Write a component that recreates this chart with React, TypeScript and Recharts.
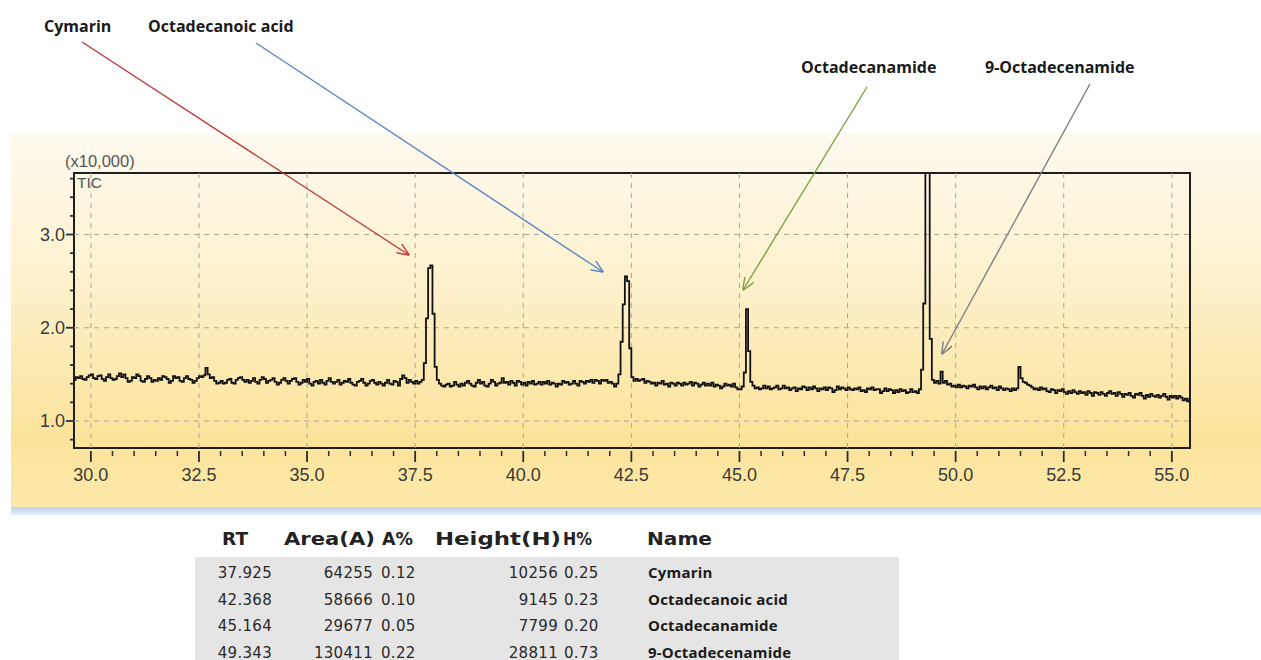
import { LineChart, Line, XAxis, YAxis, ReferenceLine, ReferenceArea } from "recharts";

// TIC trace, one row per minute, sampled every 0.05 min from 29.60
const rtStart = 29.6;
const rtStep = 0.05;
const ticRows = [
  [1.44, 1.47, 1.46, 1.48, 1.45, 1.44, 1.47, 1.49, 1.5, 1.46, 1.45, 1.48, 1.49, 1.45, 1.43, 1.47, 1.5, 1.46, 1.44, 1.45],
  [1.48, 1.51, 1.47, 1.5, 1.46, 1.42, 1.43, 1.47, 1.46, 1.5, 1.48, 1.43, 1.42, 1.45, 1.48, 1.46, 1.42, 1.44, 1.43, 1.46],
  [1.44, 1.48, 1.47, 1.45, 1.41, 1.43, 1.48, 1.46, 1.47, 1.43, 1.42, 1.46, 1.48, 1.45, 1.44, 1.41, 1.43, 1.46, 1.48, 1.47],
  [1.49, 1.57, 1.5, 1.46, 1.47, 1.43, 1.4, 1.41, 1.43, 1.4, 1.41, 1.44, 1.45, 1.41, 1.4, 1.44, 1.46, 1.47, 1.44, 1.42],
  [1.44, 1.41, 1.43, 1.46, 1.42, 1.4, 1.44, 1.47, 1.45, 1.41, 1.43, 1.44, 1.46, 1.42, 1.39, 1.41, 1.44, 1.46, 1.43, 1.4],
  [1.43, 1.45, 1.46, 1.42, 1.39, 1.41, 1.44, 1.42, 1.45, 1.4, 1.38, 1.42, 1.43, 1.4, 1.44, 1.41, 1.39, 1.43, 1.46, 1.42],
  [1.4, 1.42, 1.44, 1.39, 1.41, 1.43, 1.42, 1.45, 1.41, 1.39, 1.38, 1.42, 1.43, 1.45, 1.41, 1.38, 1.4, 1.43, 1.44, 1.41],
  [1.39, 1.42, 1.4, 1.38, 1.41, 1.44, 1.4, 1.39, 1.43, 1.42, 1.38, 1.45, 1.49, 1.46, 1.41, 1.44, 1.42, 1.4, 1.43, 1.4],
  [1.42, 1.44, 1.62, 2.1, 2.64, 2.67, 2.15, 1.58, 1.44, 1.4, 1.38, 1.37, 1.39, 1.4, 1.37, 1.38, 1.42, 1.39, 1.37, 1.4],
  [1.38, 1.41, 1.43, 1.4, 1.38, 1.37, 1.41, 1.44, 1.4, 1.42, 1.38, 1.37, 1.4, 1.44, 1.42, 1.38, 1.4, 1.41, 1.46, 1.41],
  [1.42, 1.39, 1.43, 1.41, 1.38, 1.43, 1.42, 1.39, 1.41, 1.38, 1.42, 1.4, 1.43, 1.39, 1.4, 1.42, 1.39, 1.42, 1.4, 1.43],
  [1.39, 1.41, 1.4, 1.37, 1.4, 1.39, 1.43, 1.41, 1.42, 1.39, 1.4, 1.43, 1.4, 1.38, 1.43, 1.42, 1.4, 1.43, 1.42, 1.44],
  [1.41, 1.44, 1.43, 1.4, 1.44, 1.43, 1.44, 1.41, 1.42, 1.4, 1.37, 1.4, 1.5, 1.85, 2.25, 2.55, 2.5, 1.78, 1.47, 1.43],
  [1.45, 1.43, 1.44, 1.45, 1.41, 1.43, 1.42, 1.4, 1.41, 1.38, 1.41, 1.4, 1.43, 1.39, 1.4, 1.37, 1.41, 1.4, 1.38, 1.41],
  [1.4, 1.38, 1.41, 1.39, 1.4, 1.42, 1.38, 1.41, 1.4, 1.37, 1.39, 1.41, 1.38, 1.4, 1.38, 1.41, 1.37, 1.39, 1.38, 1.35],
  [1.37, 1.4, 1.38, 1.39, 1.37, 1.4, 1.36, 1.34, 1.34, 1.37, 1.52, 2.2, 1.75, 1.42, 1.38, 1.35, 1.36, 1.34, 1.35, 1.38],
  [1.35, 1.37, 1.34, 1.35, 1.36, 1.38, 1.34, 1.35, 1.38, 1.35, 1.36, 1.33, 1.35, 1.36, 1.32, 1.35, 1.34, 1.37, 1.36, 1.33],
  [1.36, 1.34, 1.37, 1.35, 1.32, 1.35, 1.34, 1.36, 1.33, 1.36, 1.35, 1.31, 1.33, 1.37, 1.34, 1.36, 1.35, 1.33, 1.36, 1.34],
  [1.33, 1.35, 1.34, 1.36, 1.32, 1.33, 1.31, 1.35, 1.34, 1.36, 1.33, 1.34, 1.34, 1.3, 1.32, 1.35, 1.32, 1.34, 1.33, 1.3],
  [1.33, 1.31, 1.34, 1.32, 1.33, 1.3, 1.31, 1.34, 1.31, 1.32, 1.3, 1.34, 1.55, 2.26, 3.8, 3.8, 1.88, 1.44, 1.41, 1.43],
  [1.4, 1.53, 1.41, 1.43, 1.39, 1.4, 1.37, 1.38, 1.36, 1.39, 1.36, 1.38, 1.37, 1.35, 1.38, 1.37, 1.39, 1.36, 1.34, 1.37],
  [1.35, 1.37, 1.34, 1.36, 1.38, 1.35, 1.36, 1.33, 1.37, 1.35, 1.33, 1.35, 1.34, 1.32, 1.35, 1.33, 1.35, 1.58, 1.46, 1.42],
  [1.41, 1.39, 1.38, 1.36, 1.34, 1.35, 1.33, 1.36, 1.34, 1.35, 1.32, 1.31, 1.34, 1.33, 1.3, 1.33, 1.32, 1.34, 1.31, 1.29],
  [1.32, 1.3, 1.33, 1.31, 1.29, 1.32, 1.3, 1.31, 1.28, 1.32, 1.3, 1.27, 1.31, 1.3, 1.28, 1.31, 1.29, 1.27, 1.3, 1.32],
  [1.29, 1.3, 1.27, 1.31, 1.29, 1.26, 1.29, 1.28, 1.3, 1.27, 1.25, 1.29, 1.28, 1.3, 1.27, 1.24, 1.28, 1.26, 1.29, 1.27],
  [1.26, 1.28, 1.25, 1.27, 1.29, 1.26, 1.23, 1.27, 1.25, 1.27, 1.24, 1.27, 1.25, 1.22, 1.24, 1.21, 1.24, 1.23, 1.21, 1.22],
];

const xDomain = [29.61, 55.42];
const yDomain = [0.71, 3.66];
const xMajorTicks = [30, 32.5, 35, 37.5, 40, 42.5, 45, 47.5, 50, 52.5, 55];
const yMajorTicks = [1, 2, 3];

// peak table
const peakRT = [37.925, 42.368, 45.164, 49.343];
const peakArea = [64255, 58666, 29677, 130411];
const peakAreaPct = [0.12, 0.1, 0.05, 0.22];
const peakHeight = [10256, 9145, 7799, 28811];
const peakHeightPct = [0.25, 0.23, 0.2, 0.73];
const peakNames = ["Cymarin", "Octadecanoic acid", "Octadecanamide", "9-Octadecenamide"];

const data = ticRows.flat().map((v, i) => ({ rt: +(rtStart + i * rtStep).toFixed(2), tic: v }));
const xTicks = Array.from({ length: 51 }, (_, i) => 30 + i * 0.5);
const yTicks = Array.from({ length: 15 }, (_, i) => +(0.8 + i * 0.2).toFixed(1));

const axisFont = "'Liberation Sans', Arial, sans-serif";
const isMajor = (list: number[], v: number) => list.some((m) => Math.abs(m - v) < 1e-6);

function XTick(props: any) {
  const { x, y, payload } = props;
  const major = isMajor(xMajorTicks, payload.value);
  return (
    <g>
      <line x1={x} x2={x} y1={y + 3} y2={y + (major ? 14 : 8)} stroke="#2b2b2b" strokeWidth={major ? 1.8 : 1.5} />
      {major && (
        <text x={x} y={y + 33} textAnchor="middle" fontSize={18} fill="#3a3a3a" fontFamily={axisFont}>
          {payload.value.toFixed(1)}
        </text>
      )}
    </g>
  );
}

function YTick(props: any) {
  const { x, y, payload } = props;
  const major = isMajor(yMajorTicks, payload.value);
  return (
    <g>
      <line x1={x - (major ? 8 : 4)} x2={x} y1={y} y2={y} stroke="#2b2b2b" strokeWidth={1.8} />
      {major && (
        <text x={x - 9} y={y + 6.5} textAnchor="end" fontSize={18} fill="#3a3a3a" fontFamily={axisFont}>
          {payload.value.toFixed(1)}
        </text>
      )}
    </g>
  );
}

const arrows = [
  { x1: 82, y1: 42, x2: 409, y2: 255, color: "#c0393b" },
  { x1: 256, y1: 43, x2: 603, y2: 272, color: "#5b86c6" },
  { x1: 867, y1: 87, x2: 743, y2: 290, color: "#79a445" },
  { x1: 1090, y1: 84, x2: 942, y2: 354, color: "#7f7f7f" },
];

const labelFont = "'Open Sans', sans-serif";
const tableFont = "'DejaVu Sans', Verdana, sans-serif";

export default function App() {
  return (
    <div style={{ position: "absolute", left: 0, top: 0, width: 1261, height: 660, background: "#fff", overflow: "hidden" }}>
      <div
        style={{
          position: "absolute",
          left: 11,
          top: 133,
          width: 1250,
          height: 374,
          background: "linear-gradient(to bottom, #fffaf0 0%, #fdf1cc 40%, #fbe39a 82%, #fce9aa 100%)",
        }}
      />
      <div
        style={{
          position: "absolute",
          left: 11,
          top: 507,
          width: 1250,
          height: 8,
          background: "linear-gradient(to bottom, #bcd5ed, #e2edf7)",
        }}
      />
      <div style={{ position: "absolute", left: 0, top: 0 }}>
        <LineChart width={1261} height={660} data={data} margin={{ top: 173, right: 71, bottom: 172, left: 14 }}>
          <XAxis
            dataKey="rt"
            type="number"
            domain={xDomain}
            allowDataOverflow
            ticks={xTicks}
            interval={0}
            tick={<XTick />}
            tickSize={0}
            tickMargin={0}
            tickLine={false}
            axisLine={false}
            height={40}
          />
          <YAxis
            type="number"
            domain={yDomain}
            allowDataOverflow
            ticks={yTicks}
            interval={0}
            tick={<YTick />}
            tickSize={0}
            tickMargin={0}
            tickLine={false}
            axisLine={false}
            width={60}
          />
          {xMajorTicks.map((v) => (
            <ReferenceLine key={`gx-${v}`} x={v} stroke="#aaa69a" strokeDasharray="5 5" strokeWidth={1} />
          ))}
          {yMajorTicks.map((v) => (
            <ReferenceLine key={`gy-${v}`} y={v} stroke="#aaa69a" strokeDasharray="5 5" strokeWidth={1} />
          ))}
          <ReferenceArea
            x1={xDomain[0]}
            x2={xDomain[1]}
            y1={yDomain[0]}
            y2={yDomain[1]}
            fill="none"
            fillOpacity={0}
            stroke="#1e1e1e"
            strokeWidth={2}
          />
          <Line type="stepAfter" dataKey="tic" stroke="#111" strokeWidth={1.8} dot={false} isAnimationActive={false} />
        </LineChart>
      </div>
      <svg width={1261} height={660} style={{ position: "absolute", left: 0, top: 0, pointerEvents: "none" }}>
        <defs>
          {arrows.map((a, i) => (
            <marker
              key={i}
              id={`head-${i}`}
              viewBox="0 0 12 10"
              refX={11.5}
              refY={5}
              markerWidth={13}
              markerHeight={11}
              markerUnits="userSpaceOnUse"
              orient="auto"
            >
              <path d="M0,0 L12,5 L0,10" fill="none" stroke={a.color} strokeWidth={1.3} />
            </marker>
          ))}
        </defs>
        {arrows.map((a, i) => (
          <line key={i} x1={a.x1} y1={a.y1} x2={a.x2} y2={a.y2} stroke={a.color} strokeWidth={1.4} markerEnd={`url(#head-${i})`} />
        ))}
        <g fontFamily={labelFont} fontWeight={700} fontSize={16} fill="#1a1a1a">
          <text x={44} y={32}>{peakNames[0]}</text>
          <text x={148} y={32}>{peakNames[1]}</text>
          <text x={801} y={73}>{peakNames[2]}</text>
          <text x={985} y={73}>{peakNames[3]}</text>
        </g>
        <text x={65} y={167} fontFamily={axisFont} fontSize={16.5} fill="#555">(x10,000)</text>
        <text x={77} y={188} fontFamily={axisFont} fontSize={15.5} fill="#555">TIC</text>

        <rect x={195} y={557} width={704} height={110} fill="#e5e5e5" />
        <g fontFamily={tableFont} fontWeight={700} fontSize={17.5} fill="#222">
          <text x={222} y={545} textLength={26} lengthAdjust="spacingAndGlyphs">RT</text>
          <text x={284} y={545} textLength={91} lengthAdjust="spacingAndGlyphs">Area(A)</text>
          <text x={382} y={545} textLength={31} lengthAdjust="spacingAndGlyphs">A%</text>
          <text x={435} y={545} textLength={126} lengthAdjust="spacingAndGlyphs">Height(H)</text>
          <text x={563} y={545} textLength={29} lengthAdjust="spacingAndGlyphs">H%</text>
          <text x={647} y={545} textLength={65} lengthAdjust="spacingAndGlyphs" fontWeight={600}>Name</text>
        </g>
        {peakRT.map((rt, i) => {
          const y = 578 + i * 26.5;
          return (
            <g key={i} fontSize={15} fill="#2a2a2a" fontFamily={tableFont} letterSpacing={0.3}>
              <text x={272} y={y} textAnchor="end">{rt.toFixed(3)}</text>
              <text x={373} y={y} textAnchor="end">{peakArea[i]}</text>
              <text x={381} y={y}>{peakAreaPct[i].toFixed(2)}</text>
              <text x={558} y={y} textAnchor="end">{peakHeight[i]}</text>
              <text x={564} y={y}>{peakHeightPct[i].toFixed(2)}</text>
              <text x={648} y={y} fontFamily={labelFont} fontWeight={700} fontSize={15} letterSpacing={0.2} fill="#1a1a1a">
                {peakNames[i]}
              </text>
            </g>
          );
        })}
      </svg>
    </div>
  );
}
